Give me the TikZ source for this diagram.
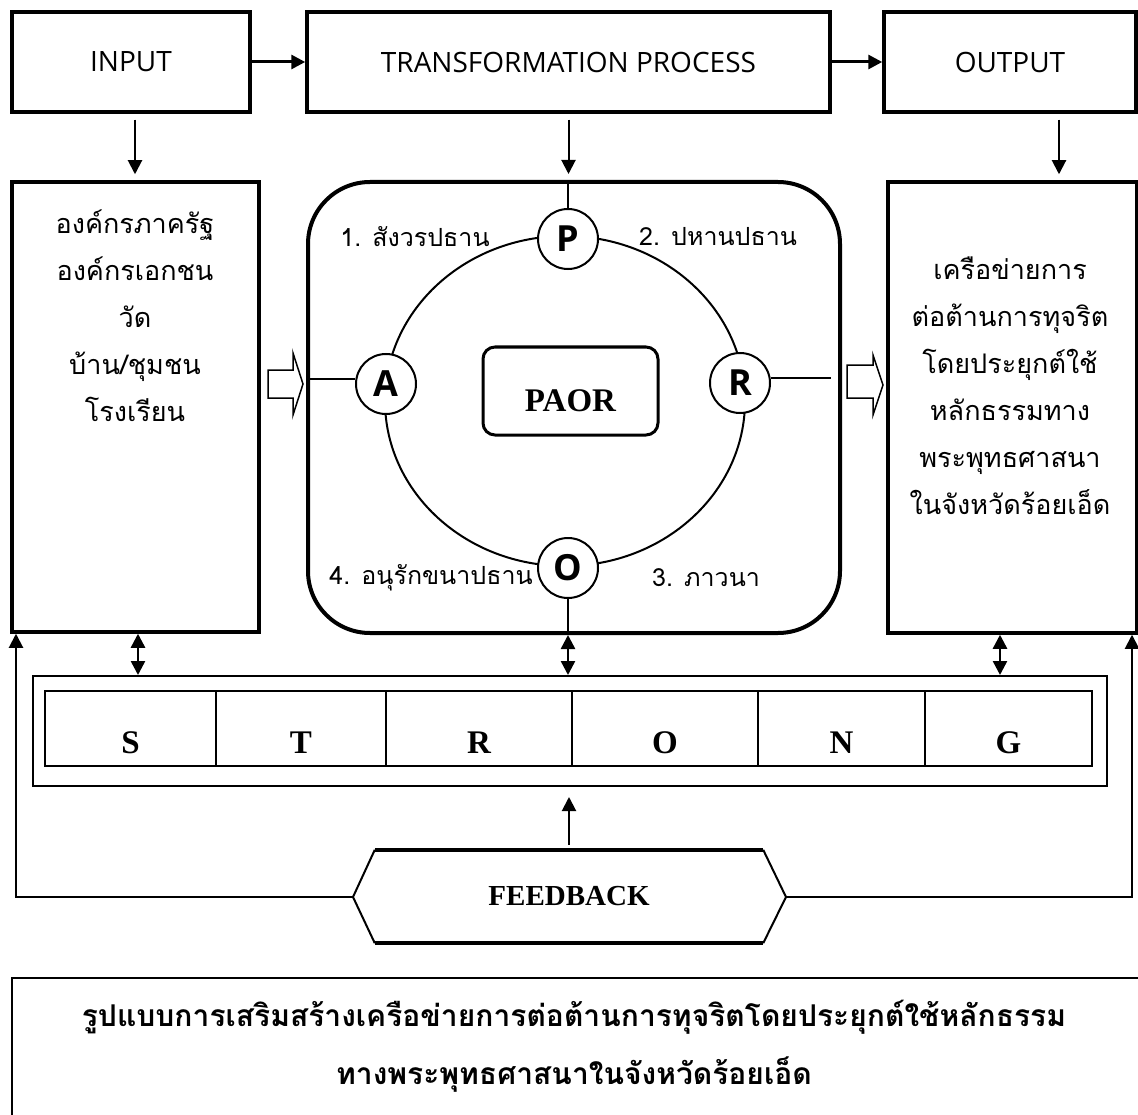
\documentclass[tikz,border=0pt]{standalone}
\usepackage{fontspec}
\setmainfont{Open Sans}
\newfontfamily\thaifont[Script=Thai]{Loma}
\newfontfamily\romanfont{Liberation Serif}
\usetikzlibrary{arrows.meta,positioning}

\tikzset{
  stagebox/.style={draw, line width=3.5pt, rectangle, font=\fontsize{28}{34}\selectfont},
  paorcirc/.style={circle, draw, line width=2pt, fill=white, minimum size=60pt, inner sep=0pt, font=\bfseries\fontsize{36}{40}\selectfont},
  strongcell/.style={draw, line width=2pt, minimum height=75pt, text height=49pt, text depth=0pt, font=\romanfont\bfseries\fontsize{33}{36}\selectfont},
  thaitext/.style={font=\thaifont\fontsize{27}{47}\selectfont, align=center},
  steplabel/.style={font=\thaifont\fontsize{25}{30}\selectfont},
}

\begin{document}
\begin{tikzpicture}[x=1pt, y=-1pt, >={Triangle[width=14pt,length=14pt]}]
\useasboundingbox (0,0) rectangle (1138,1115);

\node[stagebox, minimum width=238pt, minimum height=100pt](Inp) at (131,62) {INPUT};
\node[stagebox, minimum width=523pt, minimum height=100pt](Trans) at (568.5,62) {TRANSFORMATION PROCESS};
\node[stagebox, minimum width=252pt, minimum height=100pt](Outp) at (1010,62) {OUTPUT};
	\draw[->, line width=3pt] (Inp) to (Trans);
	\draw[->, line width=3pt] (Trans) to (Outp);

% lower row
\node[stagebox, minimum width=247pt, minimum height=450pt](Orgs) at (135.5,407) {};
\node[thaitext](OrgsTxt) at (135,316) {องค์กรภาครัฐ\\องค์กรเอกชน\\วัด\\บ้าน/ชุมชน\\โรงเรียน};
\node[stagebox, minimum width=249pt, minimum height=451pt](Net) at (1012.5,407.5) {};
\node[thaitext](NetTxt) at (1010,386) {เครือข่ายการ\\ต่อต้านการทุจริต\\โดยประยุกต์ใช้\\หลักธรรมทาง\\พระพุทธศาสนา\\ในจังหวัดร้อยเอ็ด};
\node[draw, line width=4pt, rounded corners=62pt, minimum width=532pt, minimum height=451pt](Frame) at (574,407.5) {};

	\draw[->, line width=2pt, shorten <=6pt, shorten >=6pt] ([xshift=4pt]Inp.south) to ([xshift=4pt]Inp.south |- Orgs.north);
	\draw[->, line width=2pt, shorten <=6pt, shorten >=6pt] (Trans.south) to (Trans.south |- Frame.north);
	\draw[->, line width=2pt, shorten <=6pt, shorten >=6pt] ([xshift=49pt]Outp.south) to ([xshift=49pt]Outp.south |- Net.north);

% hollow arrows
\draw[line width=1.5pt] (268,370) -- (293,370) -- (293,353) -- (303,384) -- (293,415) -- (293,398) -- (268,398) -- cycle;
\draw[line width=1.5pt] (847,365) -- (873,365) -- (873,355) -- (883,385) -- (873,415) -- (873,398) -- (847,398) -- cycle;

% PAOR cycle
\draw[line width=2pt] (565,401) ellipse [x radius=180, y radius=165];
\node[paorcirc](P) at (568,239) {P};
\node[paorcirc](A) at (386,384) {A};
\node[paorcirc](R) at (740,383) {R};
\node[paorcirc](O) at (568,568) {O};
	\draw[line width=2pt] (P) to (P |- Frame.north);
	\draw[line width=2pt] (O) to (O |- Frame.south);
	\draw[line width=2pt] (A.170) to (A.170 -| Frame.west);
\coordinate (Rend) at ([xshift=-11pt]R.10 -| Frame.east);
	\draw[line width=2pt] (R.10) to (Rend);
\node[draw, line width=3pt, rounded corners=12pt, minimum width=175pt, minimum height=88pt, text height=41pt, text depth=0pt, font=\romanfont\bfseries\fontsize{33}{36}\selectfont](Paor) at (570.5,391) {PAOR};

\node[steplabel](Lab1) at (415,237) {1. สังวรปธาน};
\node[steplabel](Lab2) at (718,237) {2. ปหานปธาน};
\node[steplabel](Lab3) at (706,578) {3. ภาวนา};
\node[steplabel](Lab4) at (431,578) {4. อนุรักขนาปธาน};

% STRONG
\node[draw, line width=2pt, minimum width=1074pt, minimum height=110pt](Strong) at (570,731) {};
\node[strongcell, minimum width=171pt](S) at (130.5,728.5) {S};
\node[strongcell, minimum width=170pt](T) at (301,728.5) {T};
\node[strongcell, minimum width=186pt](Rs) at (479,728.5) {R};
\node[strongcell, minimum width=186pt](Os) at (665,728.5) {O};
\node[strongcell, minimum width=167pt](N) at (841.5,728.5) {N};
\node[strongcell, minimum width=167pt](G) at (1008.5,728.5) {G};
	\draw[<->, line width=2.5pt] ([xshift=2.5pt]Orgs.south) to ([xshift=2.5pt]Orgs.south |- Strong.north);
	\draw[<->, line width=2.5pt] (O |- Frame.south) to (O |- Strong.north);
	\draw[<->, line width=2.5pt] ([xshift=-12.5pt]Net.south) to ([xshift=-12.5pt]Net.south |- Strong.north);

% feedback
\node[minimum width=388pt, minimum height=93pt, font=\romanfont\bfseries\fontsize{29}{32}\selectfont](Fb) at (569,896.5) {FEEDBACK};
\coordinate (FbL) at (353,897);
\coordinate (FbR) at (786,897);
\draw[line width=2pt] (Fb.north west) -- (FbL) -- (Fb.south west);
\draw[line width=2pt] (Fb.north east) -- (FbR) -- (Fb.south east);
\draw[line width=4pt] (Fb.north west) -- (Fb.north east);
\draw[line width=4pt] (Fb.south west) -- (Fb.south east);
	\draw[->, line width=2pt] (FbL) -| ([xshift=5.75pt]Orgs.south west);
	\draw[->, line width=2pt] (FbR) -| ([xshift=-6.75pt]Net.south east);
	\draw[->, line width=2pt, shorten <=5pt, shorten >=10pt] (Fb.north) to (Fb.north |- Strong.south);

% caption
\node[draw, line width=2pt, anchor=north west, minimum width=1200pt, minimum height=200pt](CapBox) at (11,977) {};
\node[font=\thaifont\bfseries\fontsize{30}{58}\selectfont, align=center](Cap) at (574,1046) {รูปแบบการเสริมสร้างเครือข่ายการต่อต้านการทุจริตโดยประยุกต์ใช้หลักธรรม\\ทางพระพุทธศาสนาในจังหวัดร้อยเอ็ด};
\end{tikzpicture}
\end{document}
